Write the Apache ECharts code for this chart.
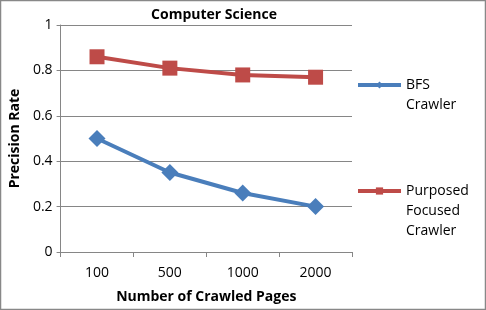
<!DOCTYPE html>
<html><head><meta charset="utf-8">
<script src="https://cdn.jsdelivr.net/npm/echarts@6/dist/echarts.min.js"></script>
<style>html,body{margin:0;padding:0;background:#fff}#c{width:486px;height:310px}</style>
</head><body><div id="c"></div>
<script>
const categories = ['100', '500', '1000', '2000'];
const bfsValues = [0.5, 0.35, 0.26, 0.2];
const purposedValues = [0.86, 0.81, 0.78, 0.77];
const yTicks = [0, 0.2, 0.4, 0.6, 0.8, 1];
const seriesNames = ['BFS\nCrawler', 'Purposed\nFocused\nCrawler'];
const FONT = 'Open Sans';
const padTop = name => '\n'.repeat(name.split('\n').length - 1) + name;
const legendCommon = {orient: 'vertical', left: 356, padding: 0, itemWidth: 43, itemHeight: 9, itemGap: 0,
  formatter: padTop, lineStyle: {width: 4},
  textStyle: {fontFamily: FONT, fontSize: 14, color: '#000', lineHeight: 20}};
const chart = echarts.init(document.getElementById('c'), null, {renderer: 'canvas'});
chart.setOption({
  animation: false,
  backgroundColor: '#fff',
  textStyle: {fontFamily: FONT},
  title: {text: 'Computer Science', left: 209, top: 3, textAlign: 'center',
    textStyle: {fontFamily: FONT, fontSize: 14, fontWeight: 'bold', color: '#000'}},
  grid: {left: 59, right: 134, top: 25, bottom: 58},
  graphic: [{type: 'rect', shape: {x: 0.5, y: 0.5, width: 485, height: 309},
    style: {fill: 'none', stroke: '#888', lineWidth: 1.5}, silent: true}],
  legend: [
    Object.assign({}, legendCommon, {top: 55, data: [seriesNames[0]]}),
    Object.assign({}, legendCommon, {top: 141, data: [seriesNames[1]]})
  ],
  xAxis: {type: 'category', data: categories, boundaryGap: true,
    name: 'Number of Crawled Pages', nameLocation: 'middle', nameGap: 38,
    nameTextStyle: {fontFamily: FONT, fontSize: 14, fontWeight: 'bold', color: '#000'},
    axisLine: {lineStyle: {color: '#868686', width: 1}},
    axisTick: {show: true, length: 5, inside: false, lineStyle: {color: '#868686'}},
    axisLabel: {color: '#000', fontSize: 14, fontFamily: FONT, margin: 14},
    splitLine: {show: false}},
  yAxis: {type: 'value', min: 0, max: 1, interval: 0.2,
    name: 'Precision Rate', nameLocation: 'middle', nameGap: 38,
    nameTextStyle: {fontFamily: FONT, fontSize: 14, fontWeight: 'bold', color: '#000'},
    axisLine: {show: true, lineStyle: {color: '#868686', width: 1}},
    axisTick: {show: true, length: 4, lineStyle: {color: '#868686'}},
    axisLabel: {color: '#000', fontSize: 14, fontFamily: FONT, margin: 8,
      formatter: v => { const t = yTicks.find(x => Math.abs(x - v) < 1e-9); return t === undefined ? '' : String(t); }},
    splitLine: {show: true, lineStyle: {color: '#868686', width: 1}}},
  series: [
    {name: seriesNames[0], type: 'line', data: bfsValues, symbol: 'diamond', symbolSize: 17,
      lineStyle: {color: '#4A7EBB', width: 4}, itemStyle: {color: '#4A7EBB'}},
    {name: seriesNames[1], type: 'line', data: purposedValues, symbol: 'rect', symbolSize: 15,
      lineStyle: {color: '#BE4B48', width: 4}, itemStyle: {color: '#BE4B48'}}
  ]
});
</script></body></html>
